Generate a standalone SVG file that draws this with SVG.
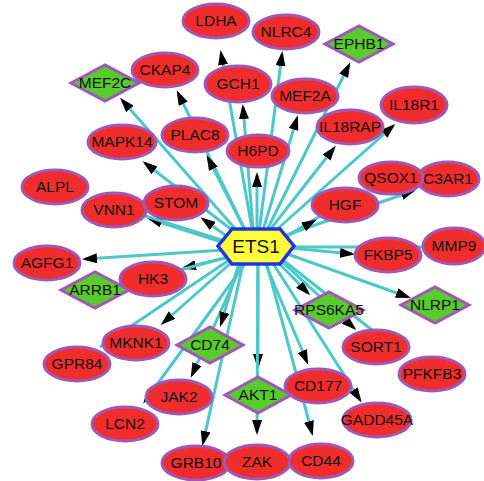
<svg xmlns="http://www.w3.org/2000/svg" width="484" height="481" viewBox="0 0 484 481">
<defs>
<style>
.edge{stroke:#4cc8c8;stroke-width:3;fill:none;marker-end:url(#arr)}
.hid{stroke:#4cc8c8;stroke-width:3;fill:none}
.e{fill:#f02c2c;stroke:#a058b8;stroke-width:3}
.d{fill:#5acb2c;stroke:#a058b8;stroke-width:3}
text{font-family:"Liberation Sans",Arial,sans-serif;font-size:15.5px;fill:#111;text-anchor:middle}
.big{font-size:19px}
</style>
<marker id="arr" viewBox="0 0 15 10" refX="12" refY="5" markerWidth="15" markerHeight="10" markerUnits="userSpaceOnUse" orient="auto">
<path d="M0,0 L15,5 L0,10 z" fill="#000"/>
</marker>
</defs>
<rect width="484" height="481" fill="#fff"/>
<g id="edges">
<line class="edge" x1="254" y1="240" x2="221" y2="53"/>
<line class="edge" x1="258" y1="240" x2="282" y2="54"/>
<line class="edge" x1="262" y1="240" x2="349" y2="65"/>
<line class="edge" x1="245" y1="240" x2="122" y2="100"/>
<line class="edge" x1="250" y1="240" x2="178" y2="93"/>
<line class="edge" x1="254" y1="240" x2="243" y2="107"/>
<line class="edge" x1="260" y1="240" x2="297" y2="118"/>
<line class="edge" x1="265" y1="240" x2="393" y2="126"/>
<line class="edge" x1="262" y1="240" x2="334" y2="148"/>
<line class="edge" x1="245" y1="240" x2="145" y2="163"/>
<line class="edge" x1="250" y1="240" x2="208" y2="158"/>
<line class="edge" x1="257" y1="240" x2="257" y2="175"/>
<line class="edge" x1="240" y1="246" x2="203" y2="219"/>
<line class="edge" x1="240" y1="248" x2="150" y2="219"/>
<line class="hid" x1="240" y1="246" x2="95" y2="200"/>
<line class="hid" x1="270" y1="246" x2="352" y2="197"/>
<line class="edge" x1="272" y1="240" x2="413" y2="191"/>
<line class="edge" x1="270" y1="246" x2="314" y2="221"/>
<line class="edge" x1="270" y1="246" x2="352" y2="254"/>
<line class="hid" x1="270" y1="247" x2="428" y2="247"/>
<line class="edge" x1="265" y1="246" x2="408" y2="297"/>
<line class="edge" x1="262" y1="246" x2="308" y2="293"/>
<line class="edge" x1="265" y1="246" x2="354" y2="328"/>
<line class="hid" x1="265" y1="246" x2="400" y2="352"/>
<line class="edge" x1="262" y1="246" x2="360" y2="400"/>
<line class="edge" x1="258" y1="246" x2="307" y2="362"/>
<line class="edge" x1="262" y1="246" x2="312" y2="433"/>
<line class="edge" x1="258" y1="246" x2="258" y2="366"/>
<line class="edge" x1="258" y1="246" x2="257" y2="432"/>
<line class="edge" x1="247" y1="246" x2="203" y2="443"/>
<line class="edge" x1="250" y1="246" x2="192" y2="375"/>
<line class="edge" x1="244" y1="246" x2="221" y2="324"/>
<line class="edge" x1="258" y1="246" x2="145" y2="401"/>
<line class="edge" x1="250" y1="246" x2="163" y2="323"/>
<line class="hid" x1="250" y1="246" x2="100" y2="347"/>
<line class="edge" x1="240" y1="254" x2="184" y2="268"/>
<line class="hid" x1="240" y1="254" x2="131" y2="283"/>
<line class="edge" x1="240" y1="249" x2="85" y2="259"/>
</g>
<g id="n-LDHA"><ellipse class="e" cx="216" cy="21" rx="33" ry="17"/><text x="216" y="26">LDHA</text></g>
<g id="n-NLRC4"><ellipse class="e" cx="286" cy="32" rx="33" ry="17"/><text x="286" y="37">NLRC4</text></g>
<g id="n-EPHB1"><polygon class="d" points="325,44 359,26 393,44 359,62"/><text x="359" y="49">EPHB1</text></g>
<g id="n-MEF2C"><polygon class="d" points="71,83 105,65 139,83 105,101"/><text x="105" y="88">MEF2C</text></g>
<g id="n-CKAP4"><ellipse class="e" cx="165" cy="70" rx="33" ry="17"/><text x="165" y="75">CKAP4</text></g>
<g id="n-GCH1"><ellipse class="e" cx="238" cy="84" rx="33" ry="18"/><text x="238" y="89">GCH1</text></g>
<g id="n-MEF2A"><ellipse class="e" cx="305" cy="96" rx="33" ry="17"/><text x="305" y="101">MEF2A</text></g>
<g id="n-IL18R1"><ellipse class="e" cx="414" cy="105" rx="33" ry="18"/><text x="414" y="110">IL18R1</text></g>
<g id="n-IL18RAP"><ellipse class="e" cx="350" cy="127" rx="33" ry="17"/><text x="350" y="132">IL18RAP</text></g>
<g id="n-MAPK14"><ellipse class="e" cx="122" cy="142" rx="34" ry="17"/><text x="122" y="147">MAPK14</text></g>
<g id="n-PLAC8"><ellipse class="e" cx="195" cy="135" rx="33" ry="17"/><text x="195" y="140">PLAC8</text></g>
<g id="n-H6PD"><ellipse class="e" cx="258" cy="151" rx="31" ry="16"/><text x="258" y="156">H6PD</text></g>
<g id="n-ALPL"><ellipse class="e" cx="55" cy="187" rx="33" ry="17"/><text x="55" y="192">ALPL</text></g>
<g id="n-VNN1"><ellipse class="e" cx="114" cy="210" rx="32" ry="17"/><text x="114" y="215">VNN1</text></g>
<g id="n-STOM"><ellipse class="e" cx="176" cy="203" rx="32" ry="17"/><text x="176" y="208">STOM</text></g>
<g id="n-C3AR1"><ellipse class="e" cx="448" cy="179" rx="31" ry="17"/><text x="448" y="184">C3AR1</text></g>
<g id="n-QSOX1"><ellipse class="e" cx="391" cy="178" rx="32" ry="16"/><text x="391" y="183">QSOX1</text></g>
<g id="n-HGF"><ellipse class="e" cx="345" cy="205" rx="33" ry="17"/><text x="345" y="210">HGF</text></g>
<g id="n-MMP9"><ellipse class="e" cx="454" cy="246" rx="31" ry="18"/><text x="454" y="251">MMP9</text></g>
<g id="n-FKBP5"><ellipse class="e" cx="388" cy="255" rx="33" ry="17"/><text x="388" y="260">FKBP5</text></g>
<g id="n-NLRP1"><polygon class="d" points="401,305 435,287 469,305 435,323"/><text x="435" y="310">NLRP1</text></g>
<g id="n-RPS6KA5"><polygon class="d" points="295,310 329,292 363,310 329,328"/><text x="329" y="315">RPS6KA5</text></g>
<g id="n-AGFG1"><ellipse class="e" cx="47" cy="263" rx="33" ry="17"/><text x="47" y="268">AGFG1</text></g>
<g id="n-ARRB1"><polygon class="d" points="61,290 95,272 129,290 95,308"/><text x="95" y="295">ARRB1</text></g>
<g id="n-HK3"><ellipse class="e" cx="153" cy="279" rx="33" ry="17"/><text x="153" y="284">HK3</text></g>
<g id="n-GPR84"><ellipse class="e" cx="77" cy="364" rx="33" ry="17"/><text x="77" y="369">GPR84</text></g>
<g id="n-MKNK1"><ellipse class="e" cx="136" cy="343" rx="33" ry="17"/><text x="136" y="348">MKNK1</text></g>
<g id="n-CD74"><polygon class="d" points="177,345 210,327 243,345 210,363"/><text x="210" y="350">CD74</text></g>
<g id="n-SORT1"><ellipse class="e" cx="376" cy="347" rx="33" ry="17"/><text x="376" y="352">SORT1</text></g>
<g id="n-PFKFB3"><ellipse class="e" cx="432" cy="374" rx="33" ry="17"/><text x="432" y="379">PFKFB3</text></g>
<g id="n-JAK2"><ellipse class="e" cx="179" cy="397" rx="33" ry="17"/><text x="179" y="402">JAK2</text></g>
<g id="n-LCN2"><ellipse class="e" cx="125" cy="424" rx="33" ry="17"/><text x="125" y="429">LCN2</text></g>
<g id="n-CD177"><ellipse class="e" cx="318" cy="386" rx="33" ry="17"/><text x="318" y="391">CD177</text></g>
<g id="n-AKT1"><polygon class="d" points="225,395 258,377 291,395 258,413"/><text x="258" y="400">AKT1</text></g>
<g id="n-GADD45A"><ellipse class="e" cx="377" cy="420" rx="34" ry="17"/><text x="377" y="425">GADD45A</text></g>
<g id="n-GRB10"><ellipse class="e" cx="196" cy="463" rx="34" ry="17"/><text x="196" y="468">GRB10</text></g>
<g id="n-ZAK"><ellipse class="e" cx="257" cy="462" rx="33" ry="17"/><text x="257" y="467">ZAK</text></g>
<g id="n-CD44"><ellipse class="e" cx="321" cy="461" rx="32" ry="17"/><text x="321" y="466">CD44</text></g>
<g id="n-ETS1"><polygon points="218,246 232,229 280,229 294,246 280,264 232,264" fill="#ffff3a" stroke="#2234dd" stroke-width="3.5"/><text class="big" x="256" y="253">ETS1</text></g>
</svg>
